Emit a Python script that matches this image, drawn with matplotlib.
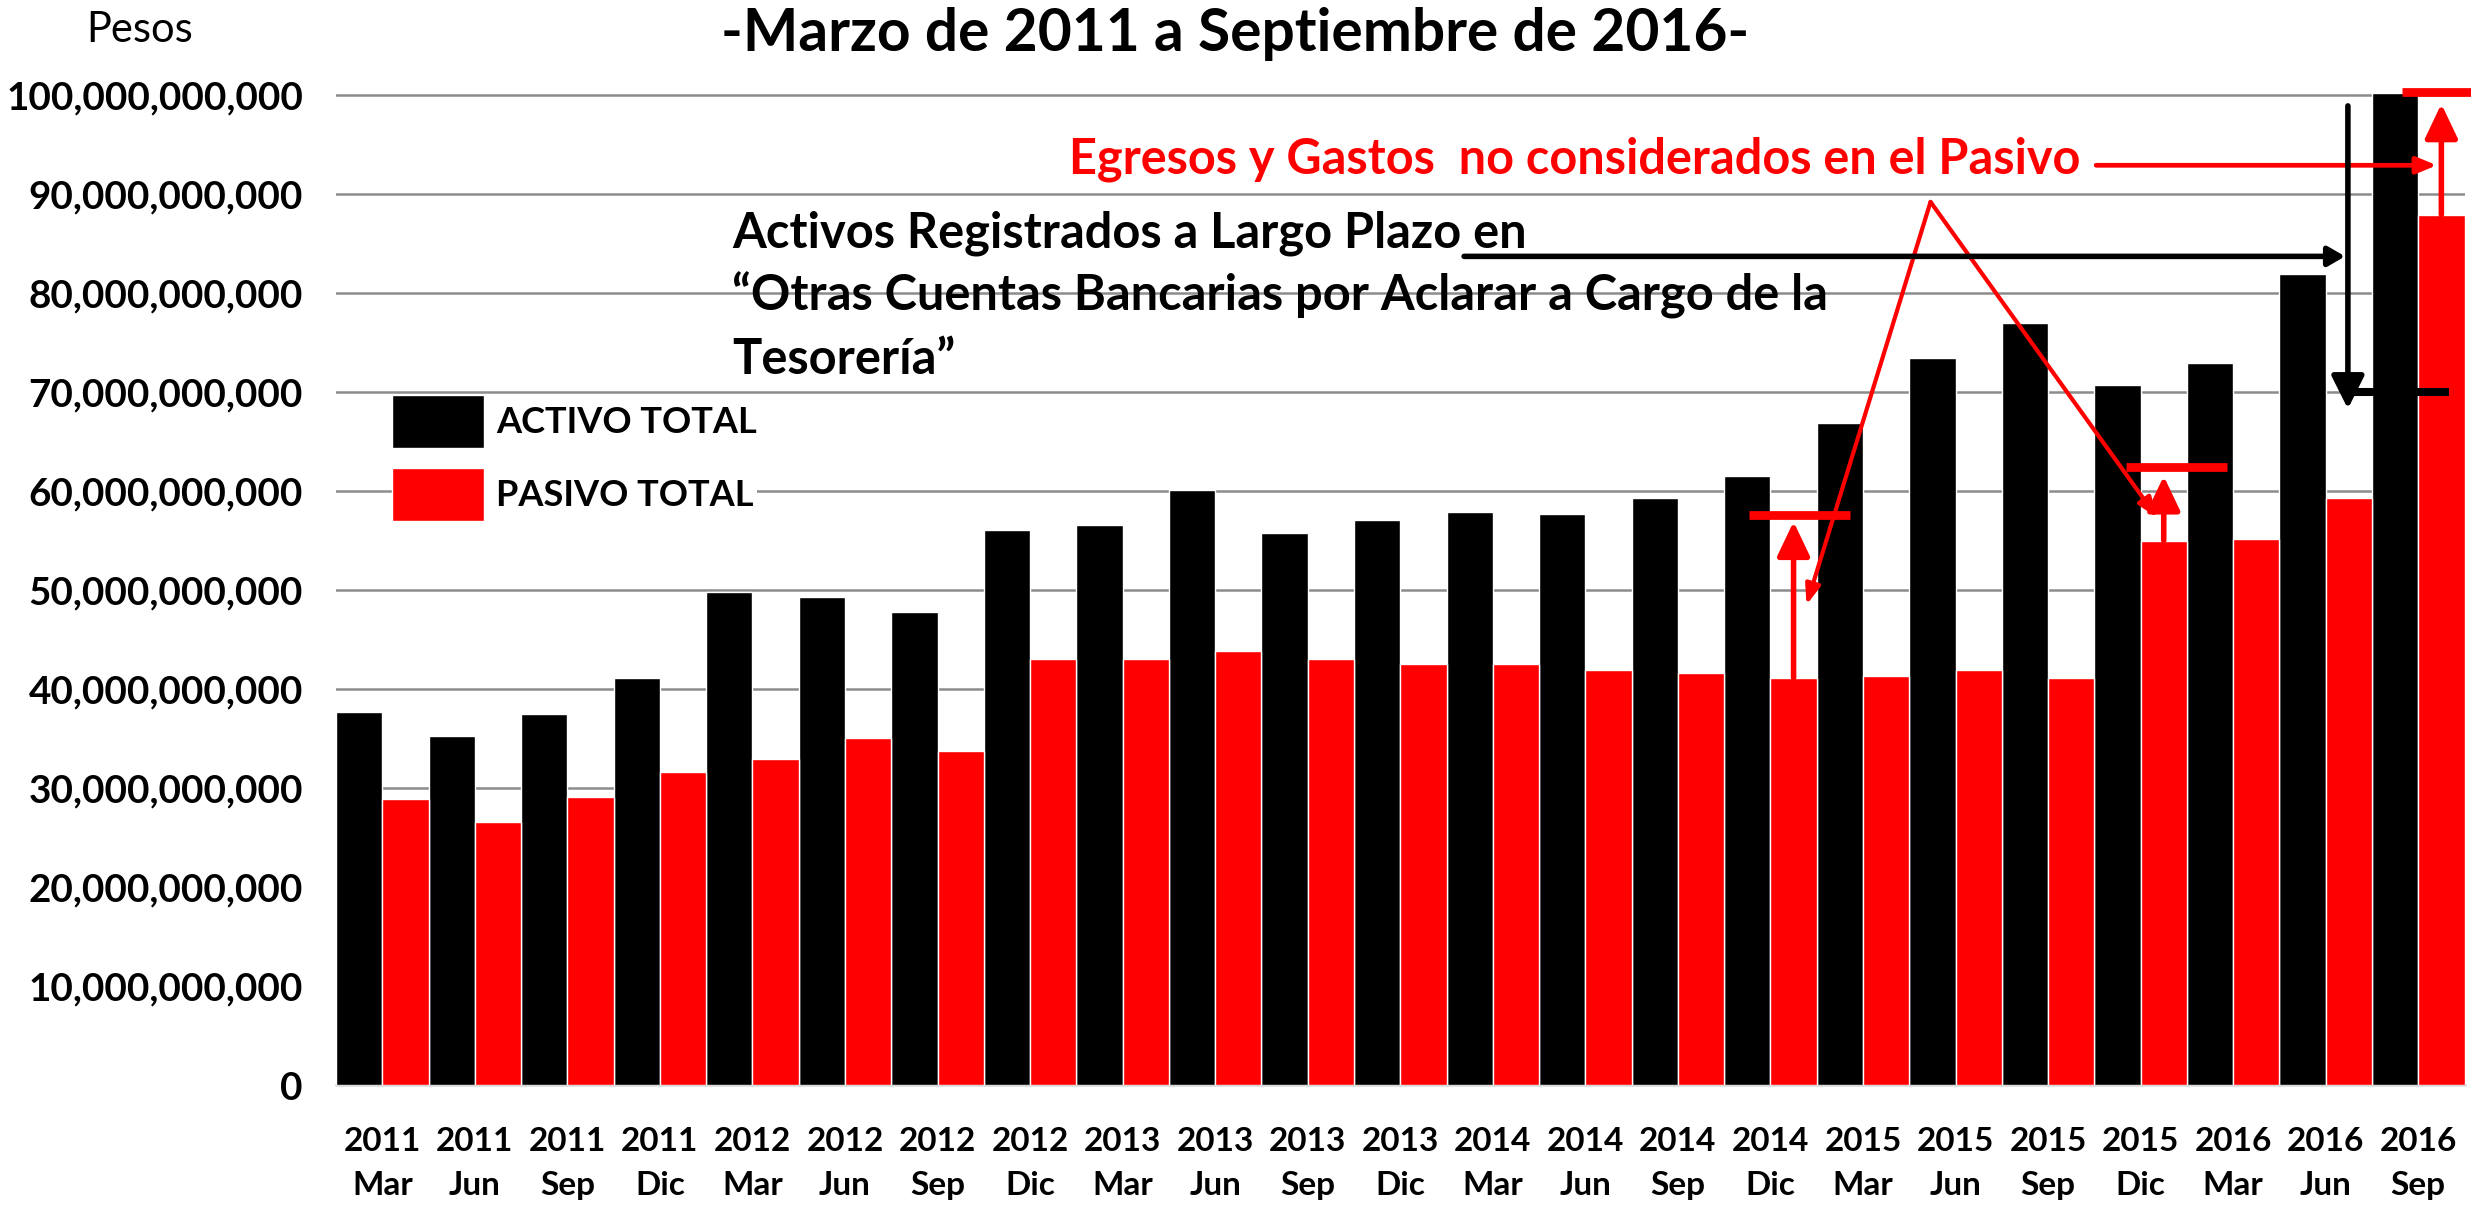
import matplotlib
matplotlib.use('Agg')
import matplotlib.pyplot as plt
import numpy as np
from matplotlib.ticker import FuncFormatter

plt.rcParams['font.family'] = ['Lato', 'DejaVu Sans']

# ---------------- data (billions of pesos) ----------------
years = ['2011'] * 4 + ['2012'] * 4 + ['2013'] * 4 + ['2014'] * 4 + ['2015'] * 4 + ['2016'] * 3
months = ['Mar', 'Jun', 'Sep', 'Dic'] * 5 + ['Mar', 'Jun', 'Sep']
activo = [37.7, 35.3, 37.5, 41.1, 49.8, 49.3, 47.8, 56.1, 56.6, 60.1, 55.8, 57.1,
          57.9, 57.7, 59.3, 61.5, 66.9, 73.4, 77.0, 70.7, 72.9, 81.9, 100.2]
pasivo = [28.9, 26.6, 29.1, 31.6, 32.9, 35.1, 33.7, 43.0, 43.0, 43.8, 43.0, 42.5,
          42.5, 41.9, 41.6, 41.1, 41.3, 41.9, 41.1, 55.0, 55.2, 59.3, 87.9]
series_labels = ['ACTIVO TOTAL', 'PASIVO TOTAL']
title = '-Marzo de 2011 a Septiembre de 2016-'
ylabel = 'Pesos'
note_black = ['Activos Registrados a Largo Plazo en',
              '\u201cOtras Cuentas Bancarias por Aclarar a Cargo de la',
              'Tesorer\u00eda\u201d']
note_red = 'Egresos y Gastos  no considerados en el Pasivo'

# annotation levels (billions)
red_mark_idx = [15, 19, 22]
red_mark_level = [57.55, 62.4, 100.3]
red_arrow_tip = [56.9, 61.5, 99.1]

B = 1e9
W, H = 2471, 1207
fig = plt.figure(figsize=(W / 100, H / 100), dpi=100)
L_px, R_px, B_px = 336, 2464.5, 1085
px_per_b = 9.9
ytop = 101
T_px = B_px - ytop * px_per_b
ax = fig.add_axes([L_px / W, 1 - B_px / H, (R_px - L_px) / W, (B_px - T_px) / H])

x = np.arange(len(activo))
ax.bar(x - 0.25, np.array(activo) * B, 0.5, color='black', edgecolor='white',
       linewidth=1, zorder=3, label=series_labels[0])
ax.bar(x + 0.25, np.array(pasivo) * B, 0.5, color='#ff0000', edgecolor='white',
       linewidth=1, zorder=3, label=series_labels[1])

ax.set_xlim(-0.5, len(x) - 0.5)
ax.set_ylim(0, ytop * B)
ax.set_yticks(np.arange(0, 101, 10) * B)
ax.yaxis.set_major_formatter(FuncFormatter(lambda v, p: f'{v:,.0f}'))
ax.set_axisbelow(True)
ax.grid(axis='y', color='#8c8c8c', linewidth=1.8)
ax.grid(axis='x', visible=False)
for s in ['left', 'right', 'top']:
    ax.spines[s].set_visible(False)
ax.spines['bottom'].set_color('#d9d9d9')
ax.spines['bottom'].set_linewidth(1.8)
ax.tick_params(axis='y', length=0, pad=23.8, labelsize=27.8)
ax.tick_params(axis='x', length=0, pad=30, labelsize=24)
ax.set_xticks(x, [f'{y}\n{m}' for y, m in zip(years, months)])
for lab in ax.get_xticklabels():
    lab.set_fontweight('bold')
    lab.set_linespacing(1.65)
for lab in ax.get_yticklabels():
    lab.set_fontweight('bold')

leg = ax.legend(loc='upper left', bbox_to_anchor=(392 / W, 1 - 395 / H),
                bbox_transform=fig.transFigure,
                prop={'size': 26, 'weight': 'bold'}, handlelength=2.55,
                handleheight=1.88, labelspacing=0.55, handletextpad=0.33,
                borderpad=0.0, borderaxespad=0, frameon=True, fancybox=False,
                framealpha=1, edgecolor='none', facecolor='white')
leg.set_zorder(5)

# ---------------- texts ----------------
def fx(px):
    return px / W

def fy(py):
    return 1 - py / H

fig.text(0.5, fy(51.4), title, ha='center', va='baseline', fontsize=42.2, fontweight='bold')
fig.text(fx(140), fy(41.5), ylabel, ha='center', va='baseline', fontsize=30)
for line, base in zip(note_black, [247, 310, 374]):
    fig.text(fx(732), fy(base), line, ha='left', va='baseline', fontsize=35.1,
             fontweight='bold', color='black', zorder=7)
fig.text(fx(1068.6), fy(173), note_red, ha='left', va='baseline', fontsize=35,
         fontweight='bold', color='#ff0000', zorder=7)

# ---------------- annotation marks ----------------
def arrow(x0, y0, x1, y1, color, lw, hl, hw):
    ax.annotate('', xy=(x1, y1 * B), xytext=(x0, y0 * B),
                arrowprops=dict(arrowstyle=f'-|>,head_length={hl},head_width={hw}',
                                color=color, lw=lw, shrinkA=0, shrinkB=0,
                                mutation_scale=1),
                annotation_clip=False, zorder=8)

def hline(x0, x1, y, color, lw):
    ax.plot([x0, x1], [y * B, y * B], color=color, lw=lw, solid_capstyle='butt',
            clip_on=False, zorder=8)

# red marks above pasivo
red_mark_span = [(14.77, 15.86), (18.84, 19.93), (21.83, 22.62)]
for i, (x0, x1), lev, tip in zip(red_mark_idx, red_mark_span, red_mark_level, red_arrow_tip):
    hline(x0, x1, lev, '#ff0000', 6.3)
    arrow(i + 0.25, pasivo[i], i + 0.25, tip, '#ff0000', 4, 21, 10)

# red label arrows
arrow(18.52, 92.9, 22.2, 92.9, '#ff0000', 3.4, 12, 5)
arrow(16.73, 89.2, 15.39, 48.5, '#ff0000', 3, 12, 4.5)
arrow(16.73, 89.2, 19.18, 57.3, '#ff0000', 3, 12, 4.5)

# black arrows
arrow(11.69, 83.7, 21.21, 83.7, 'black', 4, 10, 5.8)
arrow(21.24, 98.9, 21.24, 68.3, 'black', 4, 20, 10)
hline(21.28, 22.33, 70, 'black', 5.8)

fig.savefig('out.png', dpi=100)
